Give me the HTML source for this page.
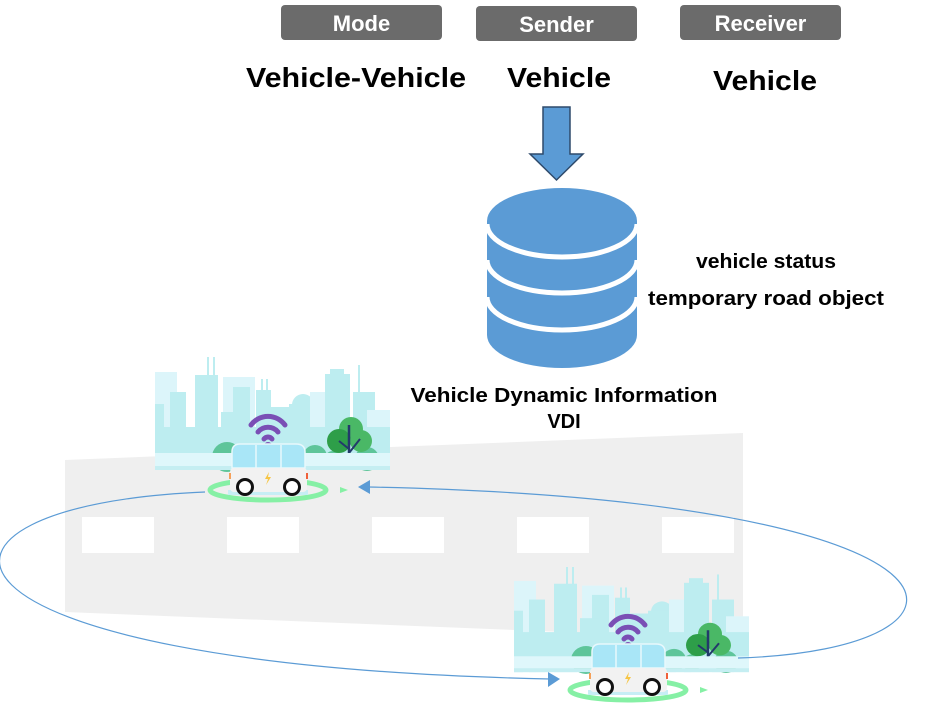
<!DOCTYPE html>
<html><head><meta charset="utf-8"><style>
html,body{margin:0;padding:0;background:#fff;}
svg{display:block;font-family:"Liberation Sans",sans-serif;font-weight:bold;}
</style></head><body>
<svg width="940" height="705" viewBox="0 0 940 705" xmlns="http://www.w3.org/2000/svg">
<defs>
<g id="scene">
  <rect x="0" y="15" width="22" height="98" fill="#dcf5fa"/>
  <rect x="0" y="47" width="9" height="66" fill="#bdedf0"/>
  <rect x="15" y="35" width="16" height="78" fill="#bdedf0"/>
  <rect x="52" y="0" width="2" height="20" fill="#bdedf0"/>
  <rect x="58" y="0" width="2" height="20" fill="#bdedf0"/>
  <rect x="40" y="18" width="23" height="95" fill="#bdedf0"/>
  <rect x="68" y="20" width="32" height="93" fill="#dcf5fa"/>
  <rect x="78" y="30" width="17" height="83" fill="#bdedf0"/>
  <rect x="66" y="55" width="20" height="58" fill="#bdedf0"/>
  <rect x="106" y="22" width="2" height="12" fill="#bdedf0"/>
  <rect x="111" y="22" width="2" height="12" fill="#bdedf0"/>
  <rect x="101" y="33" width="15" height="80" fill="#bdedf0"/>
  <rect x="116" y="50" width="20" height="63" fill="#bdedf0"/>
  <circle cx="148" cy="48" r="11" fill="#bdedf0"/>
  <rect x="134" y="47" width="28" height="66" fill="#bdedf0"/>
  <rect x="155" y="35" width="22" height="78" fill="#dcf5fa"/>
  <rect x="175" y="12" width="14" height="8" fill="#bdedf0"/>
  <rect x="170" y="17" width="25" height="96" fill="#bdedf0"/>
  <rect x="203" y="8" width="2" height="30" fill="#bdedf0"/>
  <rect x="198" y="35" width="22" height="78" fill="#bdedf0"/>
  <rect x="212" y="53" width="23" height="60" fill="#dcf5fa"/>
  <rect x="0" y="70" width="235" height="43" fill="#bdedf0"/>
  <circle cx="72" cy="100" r="15" fill="#5ec59a"/>
  <circle cx="90" cy="102" r="11" fill="#5ec59a"/>
  <circle cx="160" cy="100" r="12" fill="#5ec59a"/>
  <circle cx="178" cy="103" r="9" fill="#5ec59a"/>
  <circle cx="212" cy="102" r="12" fill="#5ec59a"/>
  <circle cx="196" cy="72" r="12" fill="#4ab866"/>
  <circle cx="184" cy="84" r="12" fill="#2e9e49"/>
  <circle cx="206" cy="84" r="11" fill="#4ab866"/>
  <line x1="194" y1="68" x2="194" y2="108" stroke="#233a6b" stroke-width="2.5"/>
  <line x1="194" y1="92" x2="184" y2="84" stroke="#233a6b" stroke-width="2"/>
  <line x1="194" y1="96" x2="205" y2="82" stroke="#233a6b" stroke-width="2"/>
  <rect x="0" y="96" width="235" height="13" fill="#dff7fb"/>
  <rect x="0" y="109" width="235" height="4" fill="#c5eef2"/>
</g>
<g id="car">
  <ellipse cx="0" cy="0" rx="58" ry="10" fill="none" stroke="#86f0a5" stroke-width="5"/>
  <path d="M72,-3 L80,0 L72,3Z" fill="#86f0a5"/>
  <rect x="-40" y="0" width="80" height="5" fill="#c7eef5"/>
  <path d="M-17,-65 A21,21 0 0 1 17,-65" fill="none" stroke="#7a4fb5" stroke-width="5" stroke-linecap="round"/>
  <path d="M-10,-58 A13,13 0 0 1 10,-58" fill="none" stroke="#7a4fb5" stroke-width="5" stroke-linecap="round"/>
  <path d="M-4,-51 A5,5 0 0 1 4,-51" fill="none" stroke="#7a4fb5" stroke-width="5" stroke-linecap="round"/>
  <circle cx="0" cy="-44" r="4" fill="#7a4fb5"/>
  <rect x="-4" y="-41" width="8" height="5" fill="#eee"/>
  <path d="M-36,-22 L-36,-38 Q-36,-46 -28,-46 L28,-46 Q37,-46 37,-38 L37,-22 Z" fill="#a9e6f7" stroke="#e8f8fc" stroke-width="1.5"/>
  <line x1="-12" y1="-45" x2="-12" y2="-22" stroke="#e8f8fc" stroke-width="1.5"/>
  <line x1="13" y1="-45" x2="13" y2="-22" stroke="#e8f8fc" stroke-width="1.5"/>
  <rect x="-38" y="-22" width="77" height="24" rx="4" fill="#f2f2f2"/>
  <rect x="-39" y="-17" width="2" height="6" fill="#f5a05a"/>
  <rect x="38" y="-17" width="2" height="6" fill="#f0603a"/>
  <path d="M1,-18 L-3,-11 L0,-11 L-2,-5 L3,-13 L0,-13 Z" fill="#f6c544"/>
  <circle cx="-23" cy="-3" r="9" fill="#111"/><circle cx="-23" cy="-3" r="6" fill="#fff"/>
  <circle cx="24" cy="-3" r="9" fill="#111"/><circle cx="24" cy="-3" r="6" fill="#fff"/>
</g>
</defs>

<rect x="281" y="5" width="161" height="35" rx="4" fill="#6b6b6b"/>
<rect x="476" y="6" width="161" height="35" rx="4" fill="#6b6b6b"/>
<rect x="680" y="5" width="161" height="35" rx="4" fill="#6b6b6b"/>
<text x="361.5" y="31" font-size="22" fill="#fff" text-anchor="middle">Mode</text>
<text x="556.5" y="32" font-size="22" fill="#fff" text-anchor="middle">Sender</text>
<text x="760.5" y="31" font-size="22" fill="#fff" text-anchor="middle">Receiver</text>
<text x="246" y="87" font-size="28" fill="#000" textLength="220" lengthAdjust="spacingAndGlyphs">Vehicle-Vehicle</text>
<text x="507" y="87" font-size="28" fill="#000" textLength="104" lengthAdjust="spacingAndGlyphs">Vehicle</text>
<text x="713" y="90" font-size="28" fill="#000" textLength="104" lengthAdjust="spacingAndGlyphs">Vehicle</text>

<path d="M543,107 L570,107 L570,154 L583,154 L556.5,180 L530,154 L543,154 Z" fill="#5b9bd5" stroke="#2e4a6b" stroke-width="1.5"/>

<path d="M487,221 L487,335 A75,33 0 0 0 637,335 L637,221 Z" fill="#5b9bd5"/>
<ellipse cx="562" cy="221" rx="75" ry="33" fill="#5b9bd5"/>
<path d="M487,224 A75,33 0 0 0 637,224" fill="none" stroke="#fff" stroke-width="5"/>
<path d="M487,260 A75,33 0 0 0 637,260" fill="none" stroke="#fff" stroke-width="5"/>
<path d="M487,297 A75,33 0 0 0 637,297" fill="none" stroke="#fff" stroke-width="5"/>

<text x="766" y="268" font-size="20" text-anchor="middle" textLength="140" lengthAdjust="spacingAndGlyphs">vehicle status</text>
<text x="766" y="305" font-size="20" text-anchor="middle" textLength="236" lengthAdjust="spacingAndGlyphs">temporary road object</text>
<text x="564" y="402" font-size="20" text-anchor="middle" textLength="307" lengthAdjust="spacingAndGlyphs">Vehicle Dynamic Information</text>
<text x="564" y="428" font-size="20" text-anchor="middle">VDI</text>

<path d="M65,460 L743,433 L743,640 L515,630 L65,612 Z" fill="#efefef"/>
<rect x="82" y="517" width="72" height="36" fill="#fff"/>
<rect x="227" y="517" width="72" height="36" fill="#fff"/>
<rect x="372" y="517" width="72" height="36" fill="#fff"/>
<rect x="517" y="517" width="72" height="36" fill="#fff"/>
<rect x="662" y="517" width="72" height="36" fill="#fff"/>

<use href="#scene" transform="translate(155,357)"/>
<use href="#scene" transform="translate(514,567) scale(1,0.93)"/>

<path d="M205,492 C-115,505 -105,665 550,679" fill="none" stroke="#5b9bd5" stroke-width="1.2"/>
<path d="M548,672 L560,679 L548,687 Z" fill="#5b9bd5"/>
<path d="M738,658 C1005,650 1005,500 368,487" fill="none" stroke="#5b9bd5" stroke-width="1.2"/>
<path d="M370,480 L358,487 L370,494 Z" fill="#5b9bd5"/>

<use href="#car" transform="translate(268,490)"/>
<use href="#car" transform="translate(628,690)"/>
</svg>
</body></html>
